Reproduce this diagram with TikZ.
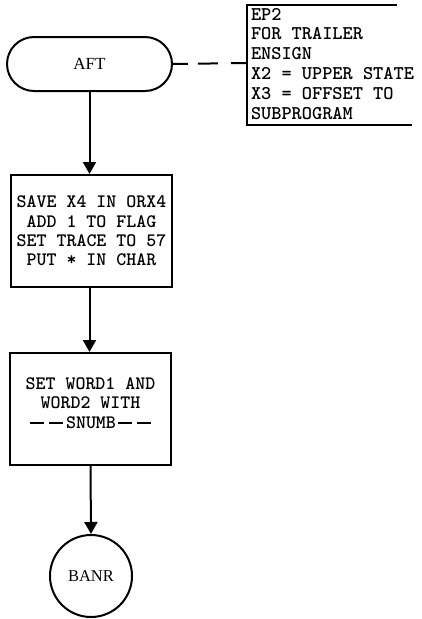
\documentclass[tikz,border=0pt]{standalone}
\usepackage{fontspec}
\setmainfont{Liberation Serif}
\usetikzlibrary{arrows.meta}
\newcommand\twfont[2]{\ttfamily\bfseries\fontsize{#1}{#2}\selectfont}
\newcommand\dashbar{\rule[0.22em]{14pt}{2pt}}
\begin{document}
\begin{tikzpicture}[x=1pt,y=-1pt,
  line width=2pt,
  proc/.style={draw, rectangle, minimum width=161pt, minimum height=112pt, inner sep=0pt,
    align=center, font=\twfont{19}{19.3}},
  term/.style={draw, rectangle, rounded corners=27pt, minimum width=165pt, minimum height=54pt,
    inner sep=0pt, font=\fontsize{17}{20}\selectfont},
  conn/.style={draw, circle, minimum size=82pt, inner sep=0pt, font=\fontsize{16.5}{20}\selectfont},
  flow/.style={-{Triangle[width=13pt,length=12pt]}},
  notetext/.style={anchor=north west, align=left, inner sep=0pt, font=\twfont{19.4}{19.8}}
]
\useasboundingbox (0,0) rectangle (422,619);
\node[term] (aft) at (89.5,64) {AFT};
\node[proc] (box1) at (91.5,231) {SAVE X4 IN ORX4\\ADD 1 TO FLAG\\SET TRACE TO 57\\PUT * IN CHAR};
\node[proc] (box2) at (90.5,409) {SET WORD1 AND\\WORD2 WITH\\\dashbar\hspace{5pt}\dashbar\hspace{3pt}SNUMB\hspace{2pt}\dashbar\hspace{5pt}\dashbar\\[-7pt]};
\node[conn] (banr) at (91,576) {BANR};
% annotation bracket
\coordinate (ntl) at (247,5);
\coordinate (ntr) at (397,5);
\coordinate (nbl) at (247,125);
\coordinate (nbr) at (412,125);
\coordinate (brk) at (247,63);
\draw (ntr) -- (ntl) -- (nbl) -- (nbr);
\node[notetext] (note) at (250,7) {EP2\\FOR TRAILER\\ENSIGN\\X2 = UPPER STATE\\X3 = OFFSET TO\\SUBPROGRAM};
\draw[dash pattern=on 15pt off 10pt on 20pt off 13pt on 17pt] (aft.east) -- (brk);
% flow
\draw[flow] (aft.south) -- (aft.south |- box1.north);
\draw[flow] (box1.south -| aft.south) -- (aft.south |- box2.north);
\draw[flow] (box2.south) -- (banr.north);
\end{tikzpicture}
\end{document}
